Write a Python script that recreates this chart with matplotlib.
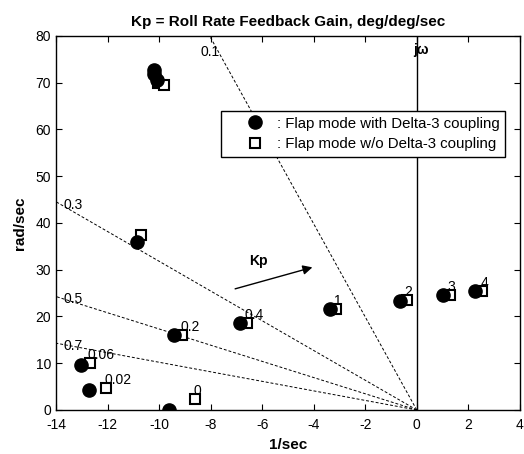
#!/usr/bin/env python3
"""Root locus of the flap mode vs roll rate feedback gain Kp."""

import numpy as np
import matplotlib
matplotlib.use('Agg')
import matplotlib.pyplot as plt
from matplotlib.lines import Line2D

plt.rcParams['font.family'] = ['Liberation Sans', 'DejaVu Sans']
plt.rcParams['axes.unicode_minus'] = False

# Flap mode with Delta-3 coupling (circles)
with_d3_re = [-10.21, -10.19, -10.10, -10.85, -9.60, -12.72, -13.02, -9.41, -6.85, -3.37, -0.66, 1.02, 2.25]
with_d3_im = [72.8, 71.9, 70.6, 36.0, 0.0, 4.2, 9.6, 16.1, 18.5, 21.5, 23.4, 24.6, 25.4]

# Flap mode without Delta-3 coupling (squares)
wo_d3_re = [-10.05, -9.81, -10.72, -8.60, -12.05, -12.70, -9.11, -6.59, -3.13, -0.39, 1.28, 2.54]
wo_d3_im = [70.0, 69.4, 37.4, 2.35, 4.6, 10.0, 16.1, 18.5, 21.5, 23.5, 24.6, 25.4]

# Kp values labelled next to the squares (index into wo_d3_*)
kp_labels = ['0', '0.02', '0.06', '0.2', '0.4', '1', '2', '3', '4']
kp_idx = [3, 4, 5, 6, 7, 8, 9, 10, 11]

# Constant damping ratio lines
zetas = [0.1, 0.3, 0.5, 0.7]


def main():
    fig = plt.figure(figsize=(5.24, 4.54), dpi=100)
    ax = fig.add_axes([0.107, 0.097, 0.885, 0.824])

    xmin, xmax, ymin, ymax = -14, 4, 0, 80

    # damping lines from origin, clipped by the axes
    for z in zetas:
        r = 200.0
        ax.plot([0, -r * z], [0, r * np.sqrt(1 - z ** 2)], color='black',
                ls=(0, (3, 2)), lw=0.7, zorder=1)
        # label where the line leaves the frame
        xe = -ymax * z / np.sqrt(1 - z ** 2)
        if xe > xmin:
            ax.text(xe - 0.35, ymax - 3.5, f'{z:g}', fontsize=10, ha='left',
                    va='center', zorder=2)
        else:
            ye = -xmin * np.sqrt(1 - z ** 2) / z
            ax.text(xmin + 0.28, ye - 0.6, f'{z:g}', fontsize=10, ha='left',
                    va='center', zorder=2)

    # imaginary axis
    ax.axvline(0, color='black', lw=1.0, zorder=1)
    ax.text(0.15, 77, 'jω', fontsize=10, fontweight='bold', ha='center',
            va='center')

    ax.plot(wo_d3_re, wo_d3_im, ls='none', marker='s', ms=7, mfc='white',
            mec='black', mew=1.5, zorder=3)
    ax.plot(with_d3_re, with_d3_im, ls='none', marker='o', ms=9.5,
            mfc='black', mec='black', zorder=4)

    for lab, i in zip(kp_labels, kp_idx):
        ax.annotate(lab, (wo_d3_re[i], wo_d3_im[i]), xytext=(-2, 8),
                    textcoords='offset pixels', fontsize=10, ha='left',
                    va='center', zorder=5)

    # direction of increasing Kp
    ax.annotate('', xy=(-4.05, 30.5), xytext=(-7.05, 25.9),
                arrowprops=dict(arrowstyle='-|>', color='black', lw=1.0,
                                mutation_scale=14, shrinkA=0, shrinkB=0))
    ax.text(-6.15, 31.8, 'Kp', fontsize=10, fontweight='bold', ha='center',
            va='center')

    handles = [
        Line2D([], [], ls='none', marker='o', ms=9.5, mfc='black', mec='black'),
        Line2D([], [], ls='none', marker='s', ms=7, mfc='white', mec='black', mew=1.5),
    ]
    leg = ax.legend(handles, [': Flap mode with Delta-3 coupling',
                              ': Flap mode w/o Delta-3 coupling'],
                    loc='upper right', bbox_to_anchor=(0.968, 0.798),
                    fontsize=10.8, frameon=True, fancybox=False, framealpha=1,
                    edgecolor='black', handlelength=3.8, handletextpad=-0.43,
                    borderpad=0.35, labelspacing=0.45, borderaxespad=0)
    leg.get_frame().set_linewidth(1.0)
    leg.set_zorder(6)

    ax.set_xlim(xmin, xmax)
    ax.set_ylim(ymin, ymax)
    ax.set_xticks(np.arange(-14, 5, 2))
    ax.set_yticks(np.arange(0, 81, 10))
    ax.tick_params(direction='in', top=True, right=True, length=4,
                   labelsize=10, width=0.8)
    ax.tick_params(axis='x', pad=6)
    for s in ax.spines.values():
        s.set_linewidth(1.0)

    ax.set_title('Kp = Roll Rate Feedback Gain, deg/deg/sec', fontsize=11,
                 fontweight='bold', pad=7)
    ax.set_xlabel('1/sec', fontsize=11, fontweight='bold', labelpad=4)
    ax.set_ylabel('rad/sec', fontsize=11, fontweight='bold', labelpad=6)

    fig.savefig('out.png', dpi=100)
    plt.close(fig)


if __name__ == '__main__':
    main()
